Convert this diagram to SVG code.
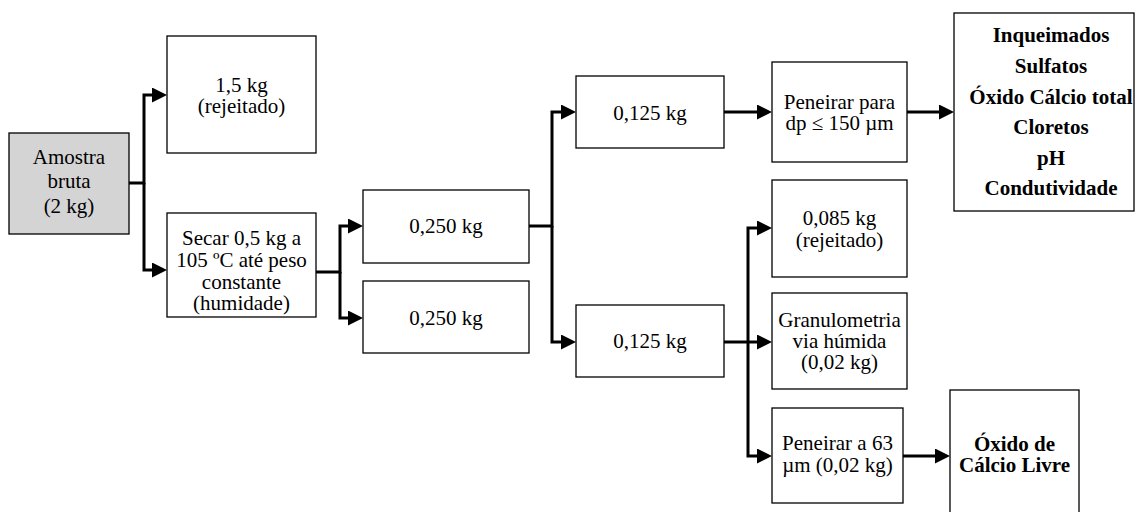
<svg xmlns="http://www.w3.org/2000/svg" width="1138" height="512" viewBox="0 0 1138 512" font-family="'Liberation Serif', 'DejaVu Serif', serif">
<defs>
<style>
.box{fill:#ffffff;stroke:#000000;stroke-width:1.3}
.gray{fill:#d4d4d4}
.t{font-family:'Liberation Serif','DejaVu Serif',serif;font-size:21px;fill:#000000;text-anchor:middle}
.b{font-weight:bold}
.c{fill:none;stroke:#000000;stroke-width:3;marker-end:url(#arr)}
</style>
<marker id="arr" viewBox="0 0 15 15" refX="7" refY="7.5" markerWidth="15" markerHeight="15" markerUnits="userSpaceOnUse" orient="auto">
<path d="M0,0 L15,7.5 L0,15 Z" fill="#000000"/>
</marker>
</defs>
<rect width="1138" height="512" fill="#ffffff"/>
<g id="connectors">
<path class="c" d="M129,183 H144 V95 H159"/>
<path class="c" d="M144,183 V270 H159"/>
<path class="c" d="M316,272 H340 V226 H355"/>
<path class="c" d="M340,272 V318 H355"/>
<path class="c" d="M529,226 H552 V112 H568"/>
<path class="c" d="M552,226 V342 H568"/>
<path class="c" d="M724,112 H764"/>
<path class="c" d="M907,112 H946"/>
<path class="c" d="M724,342 H764"/>
<path class="c" d="M748,342 V228 H764"/>
<path class="c" d="M748,342 V456 H764"/>
<path class="c" d="M903,456 H942"/>
</g>
<g id="amostra" class="t">
<rect class="box gray" x="9" y="133" width="120" height="101"/>
<text x="69" y="164">Amostra</text>
<text x="69" y="188">bruta</text>
<text x="69" y="213">(2 kg)</text>
</g>
<g id="rejeitado1" class="t">
<rect class="box" x="167" y="36" width="149" height="117"/>
<text x="241.5" y="92">1,5 kg</text>
<text x="241.5" y="113">(rejeitado)</text>
</g>
<g id="secar" class="t">
<rect class="box" x="167" y="213" width="149" height="104"/>
<text x="241.5" y="245">Secar 0,5 kg a</text>
<text x="241.5" y="267">105 ºC até peso</text>
<text x="241.5" y="289">constante</text>
<text x="241.5" y="310">(humidade)</text>
</g>
<g id="p250a" class="t">
<rect class="box" x="363" y="190" width="166" height="73"/>
<text x="446" y="233">0,250 kg</text>
</g>
<g id="p250b" class="t">
<rect class="box" x="363" y="281" width="166" height="72"/>
<text x="446" y="325">0,250 kg</text>
</g>
<g id="p125a" class="t">
<rect class="box" x="576" y="76" width="148" height="72"/>
<text x="650" y="120">0,125 kg</text>
</g>
<g id="p125b" class="t">
<rect class="box" x="576" y="305" width="148" height="72"/>
<text x="650" y="348">0,125 kg</text>
</g>
<g id="peneirar150" class="t">
<rect class="box" x="772" y="62" width="135" height="100"/>
<text x="839.5" y="109">Peneirar para</text>
<text x="839.5" y="130">dp ≤ 150 µm</text>
</g>
<g id="analises" class="t b">
<rect class="box" x="954" y="13" width="180" height="198"/>
<text x="1051" y="42">Inqueimados</text>
<text x="1051" y="73">Sulfatos</text>
<text x="1051" y="104">Óxido Cálcio total</text>
<text x="1051" y="134">Cloretos</text>
<text x="1051" y="165">pH</text>
<text x="1051" y="195">Condutividade</text>
</g>
<g id="rejeitado2" class="t">
<rect class="box" x="772" y="180" width="135" height="97"/>
<text x="839.5" y="225">0,085 kg</text>
<text x="839.5" y="247">(rejeitado)</text>
</g>
<g id="granulometria" class="t">
<rect class="box" x="772" y="293" width="135" height="96"/>
<text x="839.5" y="327">Granulometria</text>
<text x="839.5" y="348">via húmida</text>
<text x="839.5" y="369">(0,02 kg)</text>
</g>
<g id="peneirar63" class="t">
<rect class="box" x="772" y="408" width="131" height="95"/>
<text x="837.5" y="450">Peneirar a 63</text>
<text x="837.5" y="472">µm (0,02 kg)</text>
</g>
<g id="oxidolivre" class="t b">
<rect class="box" x="950" y="390" width="129" height="135"/>
<text x="1014.5" y="451">Óxido de</text>
<text x="1014.5" y="472">Cálcio Livre</text>
</g>
</svg>
